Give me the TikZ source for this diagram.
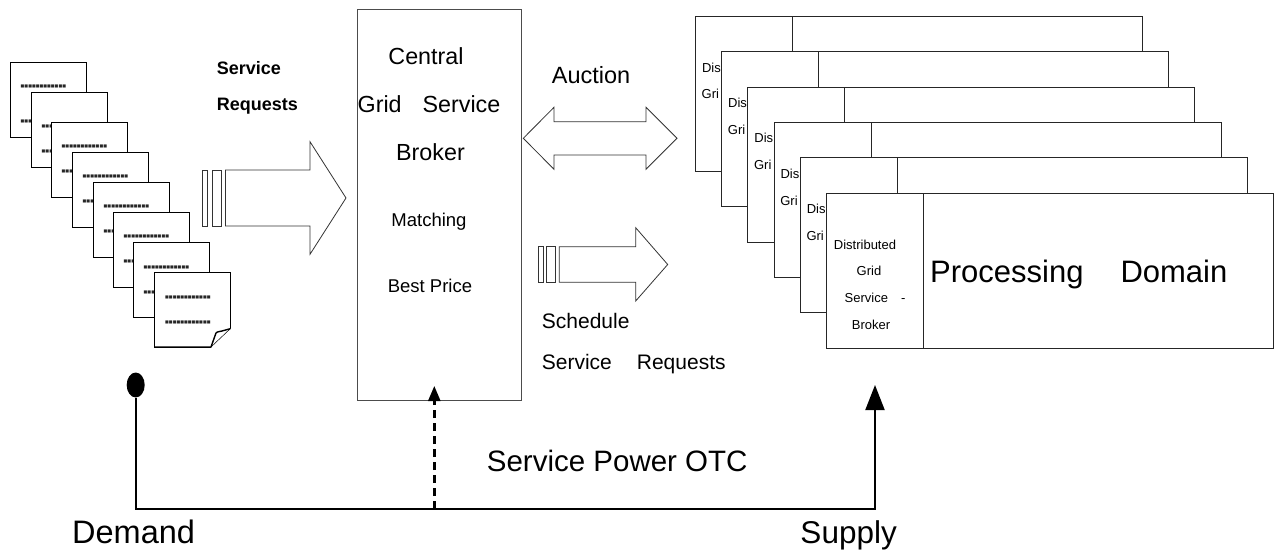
\documentclass[tikz,border=0pt]{standalone}
\usepackage{fontspec}
\setmainfont{Liberation Sans}
\newfontfamily\dotsfont{DejaVu Sans}
\usetikzlibrary{arrows.meta,shapes.geometric}

\newcommand{\boxrow}{■■■■■■■■■■■■}

\begin{document}
\begin{tikzpicture}[x=1pt,y=-1pt,
  page/.style={draw,line width=1.4pt,fill=white,minimum width=76pt,minimum height=75pt,anchor=north west,inner sep=0},
  dots/.style={anchor=west,inner sep=0,text=black!85,font=\dotsfont\fontsize{4}{5}\selectfont},
  dombox/.style={draw=black!85,line width=0.9pt,fill=white,minimum width=447pt,minimum height=155pt,anchor=north west,inner sep=0},
  dompanel/.style={draw=black!85,line width=0.9pt,minimum width=97pt,minimum height=155pt,anchor=north west,inner sep=0},
  block/.style={draw=black!80,line width=0.8pt,fill=white},
  wire/.style={line width=2pt},
  txt/.style={inner sep=0,anchor=base west},
  dtxt/.style={txt,font=\fontsize{13}{15}\selectfont},
  stxt/.style={inner sep=0,anchor=base,font=\fontsize{18.5}{22}\selectfont},
  btxt/.style={inner sep=0,anchor=base,font=\fontsize{23.3}{28}\selectfont},
  htxt/.style={txt,font=\fontsize{29.5}{34}\selectfont}]

\useasboundingbox (0,0) rectangle (1280,553);

% service requests (stack of pages)
\node[page] (p1) at (10,62) {};
\node[dots] (p1a) at (20.5,86) {\boxrow};
\node[dots] (p1b) at (20.5,121) {\boxrow};
\node[page] (p2) at (31,92) {};
\node[dots] (p2a) at (41.5,126.7) {\boxrow};
\node[dots] (p2b) at (41.5,151) {\boxrow};
\node[page] (p3) at (51,122) {};
\node[dots] (p3a) at (61.5,146.7) {\boxrow};
\node[dots] (p3b) at (61.5,171.7) {\boxrow};
\node[page] (p4) at (72,152) {};
\node[dots] (p4a) at (82.5,176.7) {\boxrow};
\node[dots] (p4b) at (82.5,201) {\boxrow};
\node[page] (p5) at (93,182) {};
\node[dots] (p5a) at (103.5,206.7) {\boxrow};
\node[dots] (p5b) at (103.5,231.7) {\boxrow};
\node[page] (p6) at (113,212) {};
\node[dots] (p6a) at (123.5,236.7) {\boxrow};
\node[dots] (p6b) at (123.5,261.7) {\boxrow};
\node[page] (p7) at (133,242) {};
\node[dots] (p7a) at (143.5,267.7) {\boxrow};
\node[dots] (p7b) at (143.5,292) {\boxrow};
\node[page] (p8) at (154,272) {};
\node[dots] (p8a) at (165,297) {\boxrow};
\node[dots] (p8b) at (165,322) {\boxrow};
\fill[white] (210.5,348) -- (231,348) -- (231,328.5) -- cycle;
\draw[line width=0.5pt] (211,347) -- (230.3,328.7);
\draw[line width=1.4pt,line join=round] (230.3,328.7) -- (222,331) .. controls (217,332) .. (216,333) .. controls (214,340) .. (211,347) -- (154,347);

\node[txt,font=\bfseries\fontsize{18}{22}\selectfont] (sreq1) at (216.7,75) {Service};
\node[txt,font=\bfseries\fontsize{18}{22}\selectfont] (sreq2) at (216.7,111) {Requests};

\draw[block] (202.7,170) rectangle (207.7,226);
\draw[block] (212,170) rectangle (221.5,226);
\draw[block] (225.5,170) -- (310,170) -- (310,141.7) -- (346,198) -- (310,254.3) -- (310,226) -- (225.5,226) -- cycle;

% broker
\node[draw=black!70,line width=1pt,minimum width=164pt,minimum height=390.7pt,inner sep=0] (broker) at (439,204.65) {};
\node[btxt] (central) at (426,64.3) {Central};
\node[btxt] (gserv) at (429,113) {Grid\hspace{21pt}Service};
\node[btxt] (gbroker) at (430.5,160.5) {Broker};
\node[stxt] (match) at (429,226.7) {Matching};
\node[stxt] (price) at (430,292.7) {Best Price};

% auction
\node[txt,font=\fontsize{23.5}{28}\selectfont] (auction) at (551.7,84) {Auction};
\draw[block] (523.3,138.3) -- (554,107.3) -- (554,121.7) -- (646,121.7) -- (646,107.3) -- (677,138.3) -- (646,169.3) -- (646,155) -- (554,155) -- (554,169.3) -- cycle;

% schedule
\draw[block] (538.3,246.7) rectangle (543.3,282.3);
\draw[block] (546.7,246.7) rectangle (555,282.3);
\draw[block] (559.3,246.7) -- (635.7,246.7) -- (635.7,227.7) -- (667.7,264.5) -- (635.7,301) -- (635.7,282.3) -- (559.3,282.3) -- cycle;
\node[txt,font=\fontsize{21}{25}\selectfont] (sched1) at (541.7,328.3) {Schedule};
\node[txt,font=\fontsize{21}{25}\selectfont] (sched2) at (541.7,370) {Service\hspace{25pt}Requests};

% processing domains
\node[dombox] (d1) at (695,16) {};
\node[dompanel] (g1) at (695,16) {};
\node[dtxt] (g1a) at (701.8,72.3) {Dis};
\node[dtxt] (g1b) at (701.5,99) {Gri};
\node[dombox] (d2) at (721.2,51.35) {};
\node[dompanel] (g2) at (721.2,51.35) {};
\node[dtxt] (g2a) at (728,107.65) {Dis};
\node[dtxt] (g2b) at (727.7,134.35) {Gri};
\node[dombox] (d3) at (747.4,86.7) {};
\node[dompanel] (g3) at (747.4,86.7) {};
\node[dtxt] (g3a) at (754.2,143) {Dis};
\node[dtxt] (g3b) at (753.9,169.7) {Gri};
\node[dombox] (d4) at (773.6,122.05) {};
\node[dompanel] (g4) at (773.6,122.05) {};
\node[dtxt] (g4a) at (780.4,178.35) {Dis};
\node[dtxt] (g4b) at (780.1,205.05) {Gri};
\node[dombox] (d5) at (799.8,157.4) {};
\node[dompanel] (g5) at (799.8,157.4) {};
\node[dtxt] (g5a) at (806.6,213.7) {Dis};
\node[dtxt] (g5b) at (806.3,240.4) {Gri};
\node[dombox] (d6) at (826,192.75) {};
\node[dompanel] (g6) at (826,192.75) {};
\node[dtxt,anchor=base] (g6a) at (865,249.3) {Distributed};
\node[dtxt,anchor=base] (g6b) at (869,276) {Grid};
\node[dtxt,anchor=base] (g6c) at (875,302.7) {Service\hspace{13pt}-};
\node[dtxt,anchor=base] (g6d) at (871,329.3) {Broker};
\node[txt,font=\fontsize{31}{36}\selectfont] (proc) at (930,282.5) {Processing\hspace{37pt}Domain};

% demand and supply
\node[ellipse,fill=black,minimum width=18pt,minimum height=25pt,inner sep=0] (dem) at (135.7,385) {};
\coordinate (c1) at (135.7,509);
\coordinate (c2) at (875,509);
\coordinate (sup) at (875,385);
\coordinate (otc) at (434.3,509);
\coordinate (otctip) at (434.3,386);
\draw[wire,-{Triangle[length=25pt,width=19pt]}] (dem) -- (c1) -- (c2) -- (sup);
\draw[wire,line width=2.5pt,dash pattern=on 8pt off 5pt,-{Triangle[length=15pt,width=12pt]}] (otc) -- (otctip);

\node[htxt] (otclbl) at (486.7,471.7) {Service Power OTC};
\node[htxt,font=\fontsize{32.5}{36}\selectfont] (demand) at (72,543.3) {Demand};
\node[htxt,font=\fontsize{31.5}{36}\selectfont,anchor=base east] (supply) at (897,543) {Supply};
\end{tikzpicture}
\end{document}
